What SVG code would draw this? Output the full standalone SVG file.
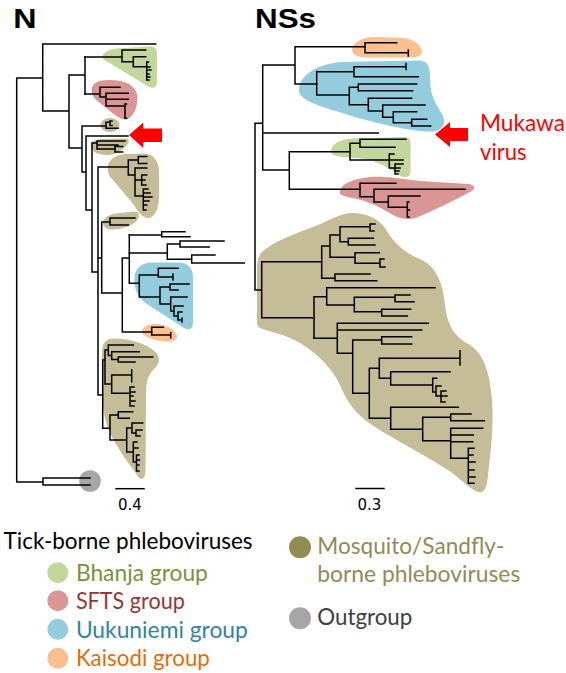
<svg xmlns="http://www.w3.org/2000/svg" width="566" height="673" viewBox="0 0 566 673">
<style>
.br{fill:none;stroke:#000;stroke-width:1.5;stroke-linecap:square}
.bh{fill:#c3d69b}.sf{fill:#d99694}.uk{fill:#93cddd}.ks{fill:#fac090}.mq{fill:#c4bd97}.og{fill:#a6a6a6}
.ttl{font-family:"Liberation Sans",Arial,sans-serif;font-weight:bold;font-size:28px;fill:#000}
.sc{font-family:"DejaVu Sans",sans-serif;font-size:15px;fill:#000;text-anchor:middle}
.lg{font-family:Lato,"Open Sans",sans-serif;font-size:23px}
.arw{fill:#ff0000}
</style>
<rect width="566" height="673" fill="#fff"/>
<text class="ttl" x="13.3" y="28.3" textLength="23.3" lengthAdjust="spacingAndGlyphs">N</text>
<text class="ttl" x="255" y="28.3" textLength="61" lengthAdjust="spacingAndGlyphs">NSs</text>

<g id="n-tree">
<g id="n-blobs">
<path class="bh" d="M103,55 C106,50 112,49 118,48.5 L150,46.5 C155,46 157,49 157,54 L157,82 C157,87 153,89 149,87 L108,62 C103,59 101,58 103,55 Z"/>
<path class="sf" d="M92,93 C90,84 97,80 108,80 C122,80 134,83 137,94 C139,104 134,118 126,119.5 C120,120 112,113 104,106 C97,101 93,98 92,93 Z"/>
<ellipse class="mq" cx="110" cy="125" rx="9.5" ry="7"/>
<path class="mq" d="M91,147 C90,141 96,139 104,139 L126,138.5 C130,139 129,142 127,145 C122,151 115,155 108,155 C98,155 92,152 91,147 Z"/>
<path class="mq" d="M108,170 C106,162 114,155 125,154 L145,153.5 C153,154 158,160 159,170 L159,196 C159,210 154,219 147,218 C142,217 138,212 134,205 L113,180 C109,176 108,173 108,170 Z"/>
<path class="mq" d="M103,223 C102,218 110,214 120,213 L134,211.5 C139,211.5 140,215 138,219 C134,226 122,229 113,229.5 C107,230 103,227 103,223 Z"/>
<path class="uk" d="M134.5,283 C133,270 140,262.5 152,262.5 L178,262.5 C188,262.5 193,268 193,278 L193,322 C193,329 189,331 184,328 L150,306 C140,300 135,292 134.5,283 Z"/>
<path class="ks" d="M142,331 C143,326 150,323.5 157,324 C166,324.5 175,330 177,335 C178,340 172,342 165,341.5 C155,341 141,336 142,331 Z"/>
<path class="mq" d="M102,352 C102,343 106,338.5 114,338.5 C128,338.5 145,343 153,350 C160,355 161,362 155,368 C149,374 146,380 146,392 L145.5,470 C145.5,479 141,482 137,475 C128,462 115,446 108,428 C103,414 102,400 102,385 Z"/>
<circle class="og" cx="90" cy="481" r="10.8"/>
</g>
<g id="n-connectors">
<path class="br" d="M16.7,78V482 M16.7,78H42.7 M42.7,44V111 M42.7,44H155.7 M42.7,111H69 M69,75V148 M69,75H85 M85,57V94 M69,148H82 M82,126V172 M82,126H106 M82,172H86 M86,136V210 M86,136H128 M86,210H92 M92,143V272 M92,143H97 M92,272H98 M98,167V395 M98,167H128.3 M98,258H101.7 M101.7,222V293 M101.7,222H110 M101.7,293H122.3 M122.3,258V332 M122.3,258H129.3 M129.3,235V283.3 M129.3,283.3H139.3 M122.3,332H151.7 M98,395H102.7 M16.7,482H43 M43,478V485 M43,478H90 M43,485H90"/>
<path class="br" d="M85,57H122 M122,50V61.7 M122,50H145.7 M122,61.7H133.3 M133.3,56.7V66.7 M133.3,56.7H145.7 M133.3,66.7H146.7 M146.7,62V80 M146.7,62H148.5 M146.7,67H150 M146.7,70H151 M146.7,74H149 M146.7,77H150 M146.7,80H149"/>
<path class="br" d="M85,94H100 M100,87.3V97 M100,87.3H120 M100,97H106 M106,93.3V106 M106,93.3H128.3 M106,99.3H128.3 M106,106H125 M125,104V118.3 M125,104H126.5 M125,118.3H126.5"/>
<path class="br" d="M106,122.3V128.3 M106,122.3H110 M110,121V125.5 M110,121H112 M110,125.5H112 M106,128.3H118.3"/>
<path class="br" d="M97,141V149 M97,141H125 M97,145H118 M97,149H115 M115,146.5V152 M115,146.5H122.7 M115,152H122.7"/>
<path class="br" d="M128.3,160V175 M128.3,160H138.3 M138.3,156.5V163.5 M138.3,156.5H146.7 M138.3,163.5H146.7 M128.3,175H135 M135,168V196 M135,168H146.7 M135,180H141.7 M141.7,175V185 M141.7,175H146.7 M141.7,180H145 M141.7,185H146 M135,196H143.3 M143.3,189V210 M143.3,189H148 M143.3,193H150 M143.3,197H152 M143.3,201H149 M143.3,205H146.7 M143.3,210H146"/>
<path class="br" d="M110,218V225 M110,218H135 M110,225H128.3"/>
<path class="br" d="M129.3,235H161.7 M161.7,231.7V236.7 M161.7,231.7H185 M161.7,236.7H190 M129.3,253H167.3 M167.3,244V259.3 M167.3,244H180 M180,241V247 M180,241H224 M180,247H209.3 M167.3,259.3H191.7 M191.7,255V263 M191.7,255H215 M191.7,263H244.3"/>
<path class="br" d="M139.3,275V297 M139.3,275H158.3 M158.3,268.3V277 M158.3,268.3H178 M158.3,277H173 M173,274V280 M139.3,297H160 M160,287V304 M160,287H170 M170,284V290 M170,284H189 M170,290H178 M160,304H170.7 M170.7,297V311 M170.7,297H187 M170.7,311H174 M174,306V316 M174,306H183 M174,316H178 M178,312V320 M178,312H182 M178,320H182 M182,318V322"/>
<path class="br" d="M151.7,327.3V335 M151.7,327.3H163.3 M151.7,335H170.7 M170.7,332.7V337.7"/>
<path class="br" d="M102.7,360V428.3 M102.7,360H105 M105,350V384 M105,350H108.3 M108.3,345V355.5 M108.3,345H133.3 M108.3,355.5H111.7 M111.7,351.7V359.5 M111.7,351.7H139.3 M111.7,359.5H118.3 M118.3,357V362 M118.3,357H152.7 M118.3,362H135 M105,384H111.7 M111.7,375V393.3 M111.7,375H131.7 M131.7,370V381.7 M111.7,393.3H130 M130,387V406 M130,387H134 M130,392H135 M130,396H133 M130,401H135 M130,406H134 M102.7,428.3H110 M110,415V440 M110,415H118.3 M118.3,411.7V418.3 M118.3,411.7H132.7 M118.3,418.3H129.3 M110,440H126.7 M126.7,428V452 M126.7,428H132 M132,423V433 M132,423H142.7 M132,433H136 M136,430V436 M136,430H142 M136,436H140 M126.7,452H133.3 M133.3,442V462 M133.3,442H137 M133.3,448H138 M133.3,462H136.5 M136.5,455V471 M136.5,455H139 M136.5,460H139.5 M136.5,465H139 M136.5,471H139"/>
<path class="br" d="M116,488.7H144"/>
</g>
<polygon id="n-arrow" class="arw" points="129,135 143.3,122.5 143.3,128.5 162,128.5 162,142 143.3,142 143.3,148"/>
<text class="sc" x="130" y="510">0.4</text>
</g>

<g id="nss-tree">
<g id="nss-blobs">
<path class="ks" d="M352,50 C352,43 362,37 375,37 L404,38 C414,39 421,46 422,51 C422,56 417,57.5 410,57.5 L370,57.5 C358,57.5 352,55 352,50 Z"/>
<path class="uk" d="M299,88 C301,76 314,65 340,62 L420,60.5 C428,61 430,66 430,80 C430,95 436,104 442,114 C447,123 443,131 432,131.5 C410,132 370,122 336,111 C312,104 297,98 299,88 Z"/>
<path class="bh" d="M331,152 C331,144 340,139 352,138.5 L404,137 C409,137 410.5,139 410.5,143 L410.5,171 C410.5,177 406,178.5 400,175.5 C390,169 378,161 365,159 C350,157 332,158 331,152 Z"/>
<path class="sf" d="M340,191 C341,184 352,179 370,177 C385,176 400,179 420,181 L468,184 C476,185 476,189 470,192 C455,200 435,210 418,217 C408,221 398,219 388,212 C375,204 360,199 348,197 C342,196 339,194 340,191 Z"/>
<path class="mq" d="M262,252 C275,240 300,232 318,225 C332,219 342,213 352,213 C365,213 378,218 385,228 C392,240 402,252 420,259 C436,266 443,283 445,305 C447,325 455,338 470,345 C485,355 490,375 492,400 C494,430 490,455 488,475 C487,488 484,494 478,492 C468,488 460,478 448,470 C425,455 395,440 372,425 C355,414 346,400 340,385 C332,368 318,354 300,343 C285,334 270,332 260,328 C256,326 257,320 257,310 L257,270 C257,262 258,256 262,252 Z"/>
</g>
<g id="nss-connectors">
<path class="br" d="M255,123.3V290 M255,123.3H262.7 M262.7,65V170 M262.7,65H295 M295,46.7V84 M295,46.7H365 M295,84H316.7 M262.7,133H378.3 M262.7,170H289.3 M289.3,151.7V189.3 M289.3,151.7H350 M289.3,189.3H360 M255,290H261.7 M261.7,261.7V317.7 M261.7,261.7H321.7 M261.7,317.7H314"/>
<path class="br" d="M365,42.7V52.7 M365,42.7H396.7 M365,52.7H408.3 M408.3,50V56"/>
<path class="br" d="M316.7,71.7V95 M316.7,71.7H354 M354,66.7V76.7 M354,66.7H406 M406,63.5V69.5 M354,76.7H418.3 M316.7,95H349.3 M349.3,87.3V104.7 M349.3,87.3H358.3 M358.3,84V90.7 M358.3,84H416.7 M358.3,90.7H412.7 M349.3,104.7H368.3 M368.3,98.3V111.1 M368.3,98.3H411.7 M368.3,111.1H382.7 M382.7,105V117.2 M382.7,105H425 M382.7,117.2H393.3 M393.3,111.7V122.7 M393.3,111.7H416.7 M393.3,122.7H411.7 M411.7,119.3V126 M411.7,119.3H426.7 M411.7,126H430.7"/>
<path class="br" d="M350,143.3V160 M350,143.3H360 M360,139.3V147.3 M360,139.3H406 M360,147.3H395 M350,160H389.3 M389.3,154V168 M389.3,154H394 M389.3,160H403 M389.3,168H395 M395,164V174 M395,164H403 M395,168H400 M395,171H399 M395,174H398"/>
<path class="br" d="M360,183.3V196.7 M360,183.3H396 M360,196.7H374 M374,189.3V202 M374,189.3H465 M374,202H388.3 M388.3,196V207.3 M388.3,196H420 M388.3,207.3H407.3 M407.3,202V217 M407.3,202H409 M407.3,210H409.5 M407.3,217H409"/>
<path class="br" d="M321.7,246V278.3 M321.7,246H330 M330,235V257.3 M330,235H340 M340,226.7V241.7 M340,226.7H370 M370,224V231 M370,224H375 M370,231H374 M340,241.7H348.3 M348.3,238.3V245 M348.3,238.3H373.3 M348.3,245H375 M330,257.3H355 M355,252.7V263.3 M355,252.7H379.3 M355,263.3H380 M380,259V267 M380,259H384 M380,267H385 M321.7,278.3H335 M335,274V280.7 M335,274H370 M335,280.7H376.7"/>
<path class="br" d="M314,296.7V338.3 M314,296.7H326.7 M326.7,287.7V305 M326.7,287.7H435 M326.7,305H354.3 M354.3,297.3V311.7 M354.3,297.3H395 M395,295V301.7 M395,295H410 M395,301.7H414 M354.3,311.7H381.7 M381.7,309.3V316 M381.7,309.3H410.7 M381.7,316H407.3"/>
<path class="br" d="M314,338.3H337.3 M337.3,323.3V353.3 M337.3,323.3H428.3 M337.3,330H421.7 M337.3,353.3H352.7 M352.7,340V393.3 M352.7,340H381.7 M381.7,336.7V344 M381.7,336.7H411.7 M381.7,344H411.7 M352.7,393.3H369.3 M369.3,368.3V418.3 M369.3,368.3H379.3 M379.3,358.3V378.3 M379.3,358.3H460 M460,350.7V365 M379.3,378.3H390.7 M390.7,371.7V385 M390.7,371.7H450 M390.7,385H432.7 M432.7,378.3V392 M432.7,378.3H436.7 M432.7,392H436 M436,386V396 M436,386H441 M436,396H441 M441,391V402 M441,391H446 M441,396H447 M441,402H445 M369.3,418.3H390.7 M390.7,407.3V429.3 M390.7,407.3H458.3 M390.7,429.3H422.7 M422.7,417.3V440.7 M422.7,417.3H450.7 M450.7,414V420.7 M450.7,414H471 M450.7,420.7H484.3 M422.7,440.7H450.7 M450.7,428.3V458.3 M450.7,428.3H482.7 M450.7,435H473.3 M450.7,441.7H472.7 M450.7,458.3H468.3 M468.3,448.3V483.3 M468.3,448.3H474 M468.3,455H473 M468.3,462H475 M468.3,470H474 M468.3,477H475 M468.3,483.3H474"/>
<path class="br" d="M356,488.5H384"/>
</g>
<polygon id="nss-arrow" class="arw" points="435,134.5 450,122 450,128 468,128 468,141 450,141 450,147"/>
<text class="sc" x="369.5" y="510">0.3</text>
</g>

<g id="mukawa-label">
<text x="480" y="131" font-family="Lato,'Open Sans',sans-serif" font-size="23" fill="#ff0000" textLength="85" lengthAdjust="spacingAndGlyphs">Mukawa</text>
<text x="480" y="160" font-family="Lato,'Open Sans',sans-serif" font-size="23" fill="#ff0000" textLength="46.7" lengthAdjust="spacingAndGlyphs">virus</text>
</g>

<g id="legend">
<text class="lg" x="3.6" y="549" fill="#000" textLength="249" lengthAdjust="spacingAndGlyphs">Tick-borne phleboviruses</text>
<g id="lg-bhanja"><circle class="bh" cx="57.8" cy="572.7" r="10.5"/><text class="lg" x="75.9" y="580.7" fill="#77933c" textLength="132" lengthAdjust="spacingAndGlyphs">Bhanja group</text></g>
<g id="lg-sfts"><circle class="sf" cx="57.8" cy="600.7" r="10.5"/><text class="lg" x="75.9" y="609" fill="#953735" textLength="109" lengthAdjust="spacingAndGlyphs">SFTS group</text></g>
<g id="lg-uuk"><circle class="uk" cx="57.8" cy="629.3" r="10.5"/><text class="lg" x="75.9" y="637.7" fill="#31859c" textLength="172" lengthAdjust="spacingAndGlyphs">Uukuniemi group</text></g>
<g id="lg-kai"><circle class="ks" cx="57.8" cy="658.3" r="10.5"/><text class="lg" x="75.9" y="666" fill="#e46c0a" textLength="134" lengthAdjust="spacingAndGlyphs">Kaisodi group</text></g>
<g id="lg-mos"><circle cx="300" cy="547.3" r="11" fill="#948a54"/><text class="lg" x="317.3" y="554" fill="#948a54" textLength="187" lengthAdjust="spacingAndGlyphs">Mosquito/Sandfly-</text><text class="lg" x="317.3" y="581.7" fill="#948a54" textLength="203" lengthAdjust="spacingAndGlyphs">borne phleboviruses</text></g>
<g id="lg-out"><circle class="og" cx="300" cy="618.3" r="11"/><text class="lg" x="317.3" y="625" fill="#404040" textLength="95" lengthAdjust="spacingAndGlyphs">Outgroup</text></g>
</g>
</svg>
